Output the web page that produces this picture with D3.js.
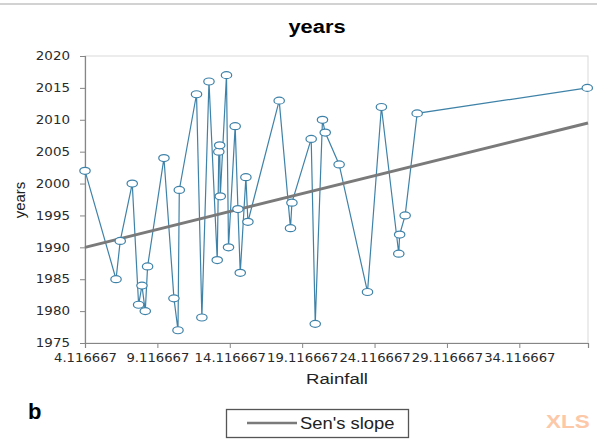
<!DOCTYPE html>
<html>
<head>
<meta charset="utf-8">
<script src="https://cdn.jsdelivr.net/npm/d3@7"></script>
<style>
  body { margin: 0; background: #fff; }
  svg { display: block; }
</style>
</head>
<body>
<div class="d3Chart"></div>
<script>
// data
var rainfall = [4.117, 6.26, 6.55, 7.38, 7.82, 8.05, 8.28, 8.44, 9.57, 10.26,
  10.54, 10.63, 11.82, 12.19, 12.68, 13.25, 13.36, 13.42, 13.46, 13.89,
  14.03, 14.49, 14.68, 14.84, 15.23, 15.37, 17.53, 18.31, 18.41, 19.74,
  20.02, 20.52, 20.71, 21.67, 23.63, 24.59, 25.79, 25.85, 26.23, 27.06, 38.81];
var years = [2002, 1985, 1991, 2000, 1981, 1984, 1980, 1987, 2004, 1982,
  1977, 1999, 2014, 1979, 2016, 1988, 2005, 2006, 1998, 2017,
  1990, 2009, 1996, 1986, 2001, 1994, 2013, 1993, 1997, 2007,
  1978, 2010, 2008, 2003, 1983, 2012, 1989, 1992, 1995, 2011, 2015];
// Sen's slope trend line end points
var senX = [4.1166667, 38.86];
var senY = [1990.0, 2009.5];
var xTicks = [4.1166667, 9.1166667, 14.1166667, 19.1166667, 24.1166667, 29.1166667, 34.1166667];
var yTicks = [1975, 1980, 1985, 1990, 1995, 2000, 2005, 2010, 2015, 2020];

var width = 605, height = 444;
var pLeft = 85, pRight = 588, pTop = 56, pBottom = 343;

var svg = d3.select(".d3Chart").append("svg")
  .attr("width", width).attr("height", height);

// stretch text horizontally (the source picture is widened)
function stretch(sel, s) {
  sel.each(function () {
    var t = d3.select(this);
    var tx = +t.attr("x") || 0, ty = +t.attr("y") || 0;
    t.attr("x", 0).attr("y", 0)
      .attr("transform", "translate(" + tx + "," + ty + ") scale(" + s + ",1)");
  });
}

// outer top line
svg.append("line").attr("x1", 0).attr("x2", 597).attr("y1", 4).attr("y2", 4)
  .attr("stroke", "#a6a6a6").attr("stroke-width", 1.2);

var x = d3.scaleLinear().domain([xTicks[0], senX[1]]).range([pLeft, pRight]);
var y = d3.scaleLinear().domain([1975, 2020]).range([pBottom, pTop]);

// plot border
svg.append("rect").attr("x", pLeft).attr("y", pTop)
  .attr("width", pRight - pLeft).attr("height", pBottom - pTop)
  .attr("fill", "none").attr("stroke", "#d9d9d9");

var yAxis = svg.append("g").attr("transform", "translate(" + pLeft + ",0)")
  .call(d3.axisLeft(y).tickValues(yTicks).tickSize(5).tickPadding(10).tickFormat(d3.format("d")));
var xAxis = svg.append("g").attr("transform", "translate(0," + pBottom + ")")
  .call(d3.axisBottom(x).tickValues(xTicks).tickSize(5).tickPadding(5).tickFormat(d3.format(".6f")));

[yAxis, xAxis].forEach(function (a) {
  a.select(".domain").attr("stroke", "#868686").attr("stroke-width", 1.2);
  a.selectAll(".tick line").attr("stroke", "#868686");
  a.selectAll(".tick text").attr("fill", "#2a2a2a")
    .style("font-family", "DejaVu Sans").style("font-size", "11.5px");
});
xAxis.selectAll(".tick text").style("font-size", "12px");
stretch(yAxis.selectAll(".tick text"), 1.17);
stretch(xAxis.selectAll(".tick text"), 1.1);

// data line
var pts = rainfall.map(function (r, i) { return [r, years[i]]; });
svg.append("path").datum(pts)
  .attr("fill", "none").attr("stroke", "#3f82a8").attr("stroke-width", 1.2)
  .attr("d", d3.line().x(function (d) { return x(d[0]); }).y(function (d) { return y(d[1]); }));

// Sen's slope
svg.append("line")
  .attr("x1", x(senX[0])).attr("y1", y(senY[0]))
  .attr("x2", x(senX[1])).attr("y2", y(senY[1]))
  .attr("stroke", "#7a7a7a").attr("stroke-width", 3);

// markers
svg.selectAll(".pt").data(pts).enter().append("ellipse")
  .attr("class", "pt")
  .attr("cx", function (d) { return x(d[0]); })
  .attr("cy", function (d) { return y(d[1]); })
  .attr("rx", 5.2).attr("ry", 3.5)
  .attr("fill", "#fff").attr("stroke", "#3f82a8").attr("stroke-width", 1.2);

// titles
var title = svg.append("text").text("years")
  .attr("x", 317).attr("y", 33).attr("text-anchor", "middle")
  .style("font-family", "Liberation Sans").style("font-weight", "bold").style("font-size", "19px");
stretch(title, 1.15);

var xLab = svg.append("text").text("Rainfall")
  .attr("x", 337).attr("y", 384).attr("text-anchor", "middle").attr("fill", "#222")
  .style("font-family", "Liberation Sans").style("font-size", "15px");
stretch(xLab, 1.24);

svg.append("text").text("years")
  .attr("transform", "translate(25,200) rotate(-90)").attr("text-anchor", "middle").attr("fill", "#222")
  .style("font-family", "Liberation Sans").style("font-size", "15px");

svg.append("text").text("b")
  .attr("x", 28).attr("y", 419)
  .style("font-family", "Liberation Sans").style("font-weight", "bold").style("font-size", "22px");

// legend
svg.append("rect").attr("x", 226.5).attr("y", 409.5).attr("width", 182).attr("height", 28)
  .attr("fill", "#fff").attr("stroke", "#555").attr("stroke-width", 1.3);
svg.append("line").attr("x1", 247).attr("x2", 297).attr("y1", 423).attr("y2", 423)
  .attr("stroke", "#7a7a7a").attr("stroke-width", 2.5);
var leg = svg.append("text").text("Sen's slope")
  .attr("x", 300).attr("y", 429).attr("fill", "#222")
  .style("font-family", "Liberation Sans").style("font-size", "16px");
stretch(leg, 1.15);

// watermark
var wm = svg.append("text").text("XLS")
  .attr("x", 546).attr("y", 428).attr("fill", "#fcc8a8")
  .style("font-family", "Liberation Sans").style("font-weight", "bold").style("font-size", "18px");
stretch(wm, 1.25);
</script>
</body>
</html>
